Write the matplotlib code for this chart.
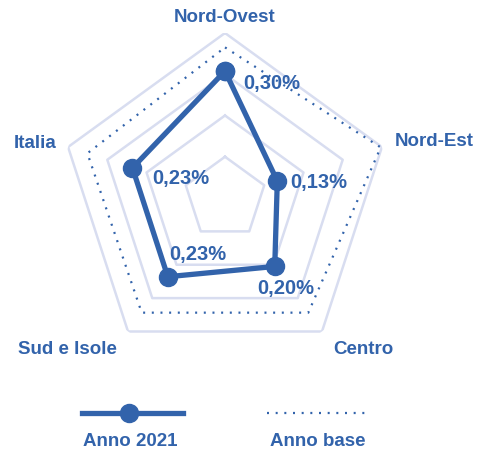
import numpy as np
import matplotlib.pyplot as plt
from matplotlib.lines import Line2D

# Radar chart: Anno 2021 vs Anno base
regioni = ['Nord-Ovest', 'Nord-Est', 'Centro', 'Sud e Isole', 'Italia']
anno_2021 = [0.30, 0.13, 0.20, 0.23, 0.23]
etichette = ['0,30%', '0,13%', '0,20%', '0,23%', '0,23%']
anno_base = [0.356, 0.387, 0.335, 0.335, 0.342]
griglia = [0.0975, 0.195, 0.2925, 0.39]

BLU = '#3263ab'
LAVANDA = '#d8ddf0'
plt.rcParams['font.family'] = ['Liberation Sans', 'DejaVu Sans']

fig = plt.figure(figsize=(4.78, 4.54), dpi=100)
# center at (225, 198) px, outer radius 165 px
ax = fig.add_axes([60 / 478, 91 / 454, 330 / 478, 330 / 454], projection='polar')
ax.set_theta_offset(np.pi / 2)
ax.set_theta_direction(-1)
ax.set_ylim(0, griglia[-1])
ax.grid(False)
ax.set_xticks([])
ax.set_yticks([])
ax.spines['polar'].set_visible(False)
ax.patch.set_visible(False)

theta = np.linspace(0, 2 * np.pi, len(regioni), endpoint=False)
theta_c = np.append(theta, theta[0])

def chiudi(v):
    return np.append(v, v[0])

# grid pentagons
for g in griglia:
    ax.plot(theta_c, [g] * len(theta_c), color=LAVANDA, lw=1.8, zorder=1)

# Anno base
ax.plot(theta_c, chiudi(anno_base), color=BLU, lw=1.6, ls=(0, (0.9, 3.0)), zorder=2)

# Anno 2021
ax.plot(theta_c, chiudi(anno_2021), color=BLU, lw=3.8, marker='o', ms=13, zorder=3,
        solid_joinstyle='miter')

# value labels
val_off = [(18, -12, 'left'), (13, -1, 'left'), (-17, -22, 'left'), (1, 22, 'left'), (20, -11, 'left')]
for t, v, s, (dx, dy, ha) in zip(theta, anno_2021, etichette, val_off):
    ax.annotate(s, xy=(t, v), xytext=(dx, dy), textcoords='offset pixels',
                ha=ha, va='center', color=BLU, fontsize=14.5, fontweight='bold')

# category labels
cat_off = [(0, 16, 'center'), (13, 6, 'left'), (11, -18, 'left'), (-11, -18, 'right'), (-12, 4, 'right')]
for t, r, (dx, dy, ha) in zip(theta, regioni, cat_off):
    ax.annotate(r, xy=(t, griglia[-1]), xytext=(dx, dy), textcoords='offset pixels',
                ha=ha, va='center', color=BLU, fontsize=13.5, fontweight='bold',
                annotation_clip=False)

# legend
def px(x, y):
    return x / 478, 1 - y / 454

x0, y0 = px(82, 413)
x1, _ = px(183, 413)
fig.add_artist(Line2D([x0, x1], [y0, y0], color=BLU, lw=3.8, transform=fig.transFigure))
xm, _ = px(129, 413)
fig.add_artist(Line2D([xm], [y0], color=BLU, marker='o', ms=13, transform=fig.transFigure))
x2, _ = px(267, 413)
x3, _ = px(371, 413)
fig.add_artist(Line2D([x2, x3], [y0, y0], color=BLU, lw=1.6, ls=(0, (0.9, 3.0)),
                      transform=fig.transFigure))
fig.text(*px(130, 442), 'Anno 2021', ha='center', va='center', color=BLU,
         fontsize=13.5, fontweight='bold')
fig.text(*px(318, 442), 'Anno base', ha='center', va='center', color=BLU,
         fontsize=13.5, fontweight='bold')

fig.savefig('out.png', dpi=100)
